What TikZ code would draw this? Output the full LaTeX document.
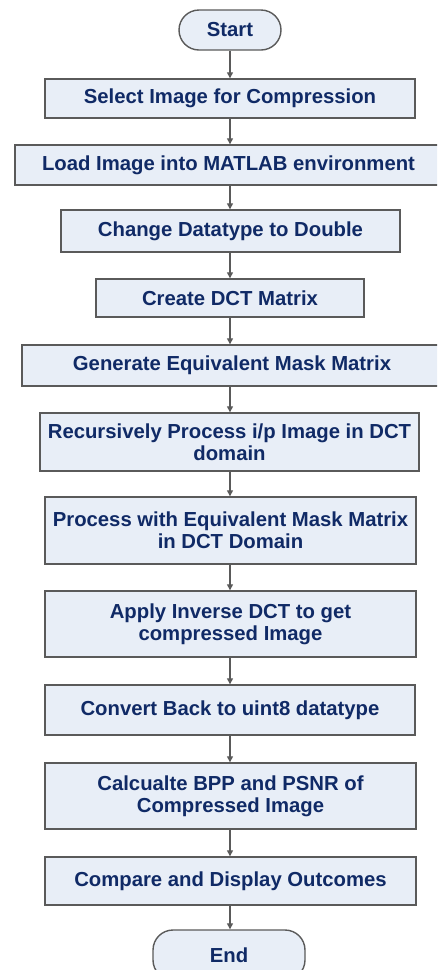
\documentclass[tikz,border=0pt]{standalone}
\usepackage{fontspec}
\setmainfont{Liberation Sans}
\usetikzlibrary{arrows.meta}
\definecolor{boxfill}{HTML}{E8EEF7}
\definecolor{boxline}{HTML}{5A5A5A}
\definecolor{txt}{HTML}{102A66}
\definecolor{arr}{HTML}{5A5A5A}
\tikzset{
  box/.style={draw=boxline, fill=boxfill, line width=1.4pt, text=txt,
    font=\fontsize{20.3}{22}\selectfont\bfseries, align=center, inner sep=0pt},
  term/.style={box, rounded corners=20pt},
  flow/.style={draw=arr, line width=1.3pt, -{Triangle[width=6pt,length=6pt]}}
}
\newcommand{\bx}[7]{% name, x1, x2, y1, y2, style, text
  \node[#6, minimum width={#3-#2}, minimum height={#5-#4}] (#1) at ({(#2+#3)/2},{(#4+#5)/2}) {#7};}
\begin{document}
\begin{tikzpicture}[x=1pt,y=-1pt]
\path[use as bounding box] (0,0) rectangle (437,970);
\begin{scope}
\clip (0,0) rectangle (437,970);
\bx{start}{179}{281}{10}{50}{term}{Start}
\bx{sel}{45}{415}{79}{118}{box}{Select Image for Compression}
\bx{load}{15}{442}{145}{185}{box}{Load Image into MATLAB environment}
\bx{chg}{61}{400}{210}{252}{box}{Change Datatype to Double}
\bx{dct}{96}{364}{279}{317}{box}{Create DCT Matrix}
\bx{gen}{22}{442}{345}{386}{box}{Generate Equivalent Mask Matrix}
\bx{rec}{40}{419}{413}{471}{box}{Recursively Process i/p Image in DCT\\domain}
\bx{proc}{45}{416}{497}{564}{box}{Process with Equivalent Mask Matrix\\in DCT Domain}
\bx{inv}{45}{416}{591}{657}{box}{Apply Inverse DCT to get\\compressed Image}
\bx{conv}{45}{415}{685}{735}{box}{Convert Back to uint8 datatype}
\bx{calc}{45}{416}{763}{829}{box}{Calcualte BPP and PSNR of\\Compressed Image}
\bx{cmp}{45}{416}{857}{905}{box}{Compare and Display Outcomes}
\bx{fin}{153}{305}{930}{980}{term}{End}
\coordinate (ax) at (230,0);
\foreach \a/\b in {start/sel,sel/load,load/chg,chg/dct,dct/gen,gen/rec,rec/proc,proc/inv,inv/conv,conv/calc,calc/cmp,cmp/fin}
  \draw[flow] (\a.south -| ax) -- (\b.north -| ax);
\end{scope}
\end{tikzpicture}
\end{document}
